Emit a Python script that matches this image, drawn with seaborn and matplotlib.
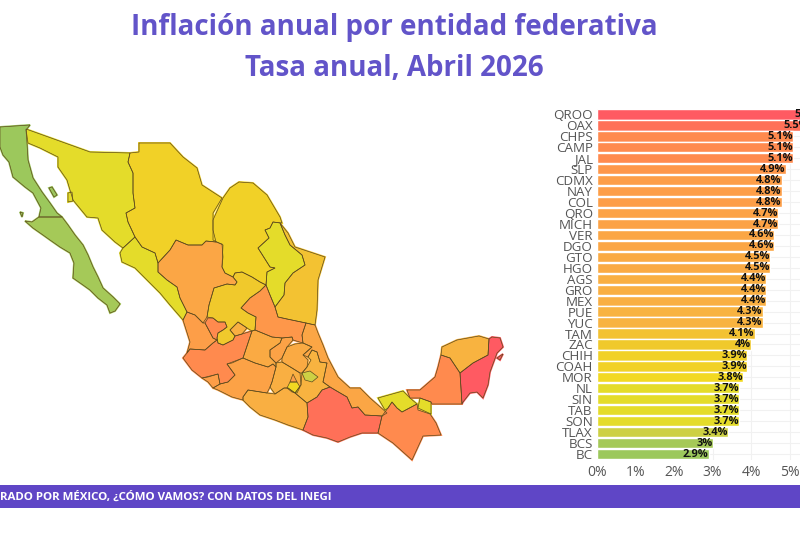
import matplotlib
matplotlib.use("Agg")
import matplotlib.pyplot as plt
from matplotlib.colors import LinearSegmentedColormap, Normalize
import seaborn as sns

# Annual inflation by state, April 2026
states = ["QROO", "OAX", "CHPS", "CAMP", "JAL", "SLP", "CDMX", "NAY", "COL", "QRO", "MICH",
          "VER", "DGO", "GTO", "HGO", "AGS", "GRO", "MEX", "PUE", "YUC", "TAM", "ZAC",
          "CHIH", "COAH", "MOR", "NL", "SIN", "TAB", "SON", "TLAX", "BCS", "BC"]
rates = [5.8, 5.5, 5.1, 5.1, 5.1, 4.9, 4.8, 4.8, 4.8, 4.7, 4.7,
         4.6, 4.6, 4.5, 4.5, 4.4, 4.4, 4.4, 4.3, 4.3, 4.1, 4.0,
         3.9, 3.9, 3.8, 3.7, 3.7, 3.7, 3.7, 3.4, 3.0, 2.9]
x_ticks = [0, 1, 2, 3, 4, 5]

title_lines = ["Inflación anual por entidad federativa", "Tasa anual, Abril 2026"]
footer_text = "RADO POR MÉXICO, ¿CÓMO VAMOS? CON DATOS DEL INEGI"

# Colour ramp shared by the bars and the choropleth
ramp_stops = [2.9, 3.4, 3.7, 3.8, 4.0, 4.3, 4.8, 5.1, 5.5, 5.8]
ramp_colors = ["#9cc85c", "#cdd044", "#e4dc2a", "#f2d922", "#f0c92c", "#f8b340",
               "#fd9e48", "#ff8a4e", "#ff7058", "#ff5a62"]

# State outlines on the map's own grid
BC = [(0,127),(30,125),(26,130),(27,143),(28,160),(33,178),(42,192),(50,203),(57,213),(62,217),(39,217),
      (41,208),(33,193),(25,187),(13,177),(9,162),(3,155),(0,147)]
BCS = [(39,217),(62,217),(68,225),(75,235),(83,245),(88,255),(93,267),(98,277),(103,288),(113,297),(120,304),
       (115,311),(110,313),(107,305),(98,298),(90,290),(83,285),(73,278),(74,263),(70,253),(60,247),(50,240),
       (43,235),(33,228),(25,221),(32,222)]
SON = [(26,129),(90,152),(130,153),(128,162),(133,173),(133,193),(135,208),(126,213),(128,222),(135,237),
       (123,248),(115,242),(102,230),(98,218),(87,217),(73,200),(67,180),(58,167),(58,157),(48,152),(40,148),(28,143)]
CHIH = [(130,153),(139,152),(139,143),(170,143),(183,157),(197,168),(202,185),(222,198),(213,213),(213,230),
        (216,242),(206,241),(202,245),(188,245),(176,240),(170,250),(158,263),(155,253),(142,247),(135,237),
        (128,222),(126,213),(135,208),(133,193),(133,173),(128,162)]
SIN = [(123,248),(135,237),(142,247),(155,253),(158,263),(158,272),(167,280),(177,287),(180,298),(187,312),
       (183,320),(170,305),(160,293),(147,280),(135,268),(122,262),(120,253)]
DGO = [(158,263),(170,250),(176,240),(188,245),(202,245),(206,241),(216,242),(222,244),(223,257),(222,267),
       (225,273),(233,277),(237,282),(235,285),(227,284),(214,288),(209,305),(207,317),(203,323),(195,315),
       (187,312),(180,298),(177,287),(167,280),(158,272)]
COAH = [(223,198),(230,188),(239,182),(253,183),(267,195),(280,217),(282,223),(273,222),(270,228),(265,230),
        (269,238),(258,248),(270,267),(275,268),(267,272),(266,285),(260,282),(252,277),(242,272),(235,273),
        (233,277),(225,273),(222,267),(223,245),(213,240),(213,220)]
NL = [(273,222),(280,223),(285,235),(290,245),(302,255),(305,265),(293,273),(285,283),(284,295),(275,307),
      (270,295),(266,285),(267,272),(275,268),(270,267),(258,248),(269,238),(265,230),(270,228)]
TAM = [(280,223),(288,233),(295,247),(325,257),(318,280),(317,310),(315,325),(306,323),(287,319),(278,317),
       (275,307),(284,295),(285,283),(293,273),(305,265),(302,255),(290,245),(285,235)]
SLP = [(266,285),(270,295),(275,307),(278,317),(287,319),(306,323),(302,335),(303,343),(293,340),(292,337),
       (282,338),(272,337),(255,330),(256,317),(248,313),(241,308),(250,298),(260,291)]
ZAC = [(214,288),(227,284),(235,285),(237,282),(233,277),(235,273),(242,272),(252,277),(260,282),(266,285),
       (260,291),(250,298),(241,308),(248,313),(256,317),(255,330),(252,331),(247,328),(238,322),(230,330),
       (235,336),(233,340),(223,345),(218,343),(217,338),(218,333),(223,330),(227,327),(225,322),(218,322),
       (213,318),(207,317),(209,305)]
AGS = [(230,330),(238,322),(247,328),(242,334),(235,336)]
NAY = [(183,320),(187,312),(195,315),(203,323),(205,323),(213,338),(217,340),(213,343),(205,350),(190,349),
       (187,353),(190,342)]
JAL = [(205,323),(208,318),(213,318),(218,322),(225,322),(227,327),(223,330),(218,333),(217,338),(218,343),
       (223,345),(233,340),(235,336),(242,334),(252,331),(245,352),(243,358),(232,363),(227,364),(235,375),
       (228,382),(220,384),(218,374),(208,377),(202,378),(192,370),(183,358),(187,353),(190,349),(205,350),
       (213,343),(217,340),(213,338)]
COL = [(202,378),(218,374),(220,384),(213,388),(208,382)]
MICH = [(227,364),(243,358),(255,363),(268,367),(273,364),(276,367),(272,382),(270,387),(267,393),(248,390),
        (243,397),(243,400),(232,397),(218,390),(213,388),(220,384),(228,382),(235,375)]
GTO = [(252,331),(255,330),(272,337),(282,338),(280,343),(270,350),(270,357),(276,363),(276,367),(273,364),
       (268,367),(255,363),(243,358),(245,352)]
QRO = [(282,338),(292,337),(293,340),(287,347),(282,358),(276,363),(270,357),(270,350),(280,343)]
HGO = [(287,347),(295,344),(303,343),(312,347),(303,355),(308,360),(307,367),(302,373),(300,373),(292,368),
       (282,362),(282,358)]
MEX = [(276,367),(276,363),(282,362),(292,368),(300,373),(301,385),(295,393),(288,388),(284,388),(275,394),
       (270,387),(272,382)]
CDMX = [(293,374),(297,382),(290,382)]
MOR = [(287,388),(290,382),(297,382),(300,387),(297,393),(292,392)]
TLAX = [(302,373),(310,371),(318,377),(312,382),(305,380)]
PUE = [(312,350),(317,352),(320,362),(327,363),(323,382),(330,387),(322,390),(317,397),(307,403),(295,393),
       (301,385),(302,373),(307,367),(311,360),(308,357)]
VER = [(302,335),(306,323),(315,325),(318,333),(323,345),(328,358),(338,377),(350,388),(360,388),(370,398),
       (387,413),(382,416),(365,415),(358,407),(352,408),(347,397),(335,390),(330,387),(323,382),(327,363),
       (320,362),(317,352),(312,350),(308,357),(303,355),(312,347),(303,343)]
GRO = [(243,400),(243,397),(248,390),(267,393),(275,394),(284,388),(288,388),(295,393),(307,403),(308,417),
       (303,430),(288,425),(275,420),(260,415),(250,407)]
OAX = [(307,403),(317,397),(322,390),(330,387),(335,390),(347,397),(352,408),(358,407),(365,415),(382,416),
       (378,433),(362,433),(350,437),(338,442),(327,438),(313,435),(303,430),(308,417)]
CHPS = [(382,416),(388,408),(392,402),(397,408),(402,412),(417,404),(418,410),(430,414),(436,423),(441,435),
        (423,436),(412,460),(393,443),(378,433)]
TAB = [(378,398),(403,391),(410,398),(417,404),(402,412),(397,408),(392,402),(388,408),(385,410)]
TAB_EAST = [(420,398),(431,402),(431,414),(418,408)]
CAMP = [(407,390),(420,390),(435,377),(438,367),(441,355),(450,358),(460,373),(462,404),(432,404),(431,402),
        (420,398),(410,398)]
YUC = [(441,355),(442,347),(457,340),(479,336),(489,339),(488,355),(473,363),(460,373),(450,358)]
QROO = [(489,339),(492,337),(500,338),(503,347),(497,353),(490,372),(488,385),(483,398),(477,392),(470,393),
        (463,402),(462,404),(460,373),(473,363),(488,355)]
COZUMEL = [(497,358),(503,354),(500,360)]
ANGEL_GUARDA = [(49,188),(52,187),(57,195),(54,197)]
TIBURON = [(68,193),(72,192),(73,201),(68,202)]
CEDROS = [(20,212),(23,213),(22,217)]

state_shapes = {
    "BC": [BC, ANGEL_GUARDA, CEDROS], "BCS": [BCS], "SON": [SON, TIBURON], "CHIH": [CHIH], "SIN": [SIN],
    "DGO": [DGO], "COAH": [COAH], "NL": [NL], "TAM": [TAM], "SLP": [SLP], "ZAC": [ZAC], "AGS": [AGS],
    "NAY": [NAY], "JAL": [JAL], "COL": [COL], "MICH": [MICH], "GTO": [GTO], "QRO": [QRO], "HGO": [HGO],
    "PUE": [PUE], "MEX": [MEX], "CDMX": [CDMX], "MOR": [MOR], "TLAX": [TLAX], "VER": [VER], "GRO": [GRO],
    "OAX": [OAX], "CHPS": [CHPS], "TAB": [TAB, TAB_EAST], "CAMP": [CAMP], "YUC": [YUC],
    "QROO": [QROO, COZUMEL],
}

sns.set_theme(style="white")
plt.rcParams["font.family"] = ["Open Sans", "DejaVu Sans"]

norm = Normalize(min(ramp_stops), max(ramp_stops))
cmap = LinearSegmentedColormap.from_list(
    "inflation", [(norm(s), c) for s, c in zip(ramp_stops, ramp_colors)])
rate_by_state = dict(zip(states, rates))

fig = plt.figure(figsize=(8, 5.5), dpi=100, facecolor="white")

# Full-figure layer for the map, titles and footer band
canvas = fig.add_axes([0, 0, 1, 1])
canvas.set_xlim(0, 800)
canvas.set_ylim(550, 0)
canvas.axis("off")

for code, shapes in state_shapes.items():
    for outline in shapes:
        xs, ys = zip(*outline)
        # A wider edge in the state's colour seals hairline gaps between neighbours
        canvas.fill(xs, ys, facecolor="none", edgecolor=cmap(norm(rate_by_state[code])), linewidth=1.4, zorder=1)
for code, shapes in state_shapes.items():
    for outline in shapes:
        xs, ys = zip(*outline)
        canvas.fill(xs, ys, facecolor=cmap(norm(rate_by_state[code])), edgecolor="none", zorder=2)
        canvas.fill(xs, ys, facecolor="none", edgecolor="#5e4b1e", linewidth=0.5, zorder=3)

title_color = "#6254c9"
canvas.text(394, 28, title_lines[0], ha="center", va="center", fontsize=20,
            fontweight="bold", color=title_color)
canvas.text(394, 69, title_lines[1], ha="center", va="center", fontsize=20,
            fontweight="bold", color=title_color)

canvas.axhspan(485, 508, color="#5f46c6", linewidth=0)
canvas.text(332, 497.5, footer_text, ha="right", va="center", fontsize=8.25,
            fontweight="bold", color="white")

# Ranked bars on the right
bar_ax = fig.add_axes([597 / 800, 1 - 459.5 / 550, 203 / 800, 350.5 / 550], facecolor="none")
sns.barplot(y=states, x=rates, hue=states, dodge=False, legend=False, orient="h", width=0.94,
            palette=[cmap(norm(r)) for r in rates], saturation=1, ax=bar_ax)
bar_ax.set_xlim(0, 203 / 38.5)
bar_ax.set_xticks(x_ticks)
bar_ax.set_xticklabels([f"{t}%" for t in x_ticks])
bar_ax.set_xlabel("")
bar_ax.set_ylabel("")
bar_ax.grid(True, color="#f1f1f1", linewidth=0.8)
bar_ax.set_axisbelow(True)
sns.despine(ax=bar_ax, left=True, bottom=True)
bar_ax.tick_params(axis="y", length=0, pad=3, labelsize=9.6, labelcolor="#555555")
bar_ax.tick_params(axis="x", length=0, pad=4, labelsize=10, labelcolor="#555555")

for position, rate in enumerate(rates):
    bar_ax.text(rate, position, f"{rate:g}%", ha="right", va="center", fontsize=7.9,
                fontweight="bold", color="#111111", clip_on=False)

fig.savefig("out.png", dpi=100)
